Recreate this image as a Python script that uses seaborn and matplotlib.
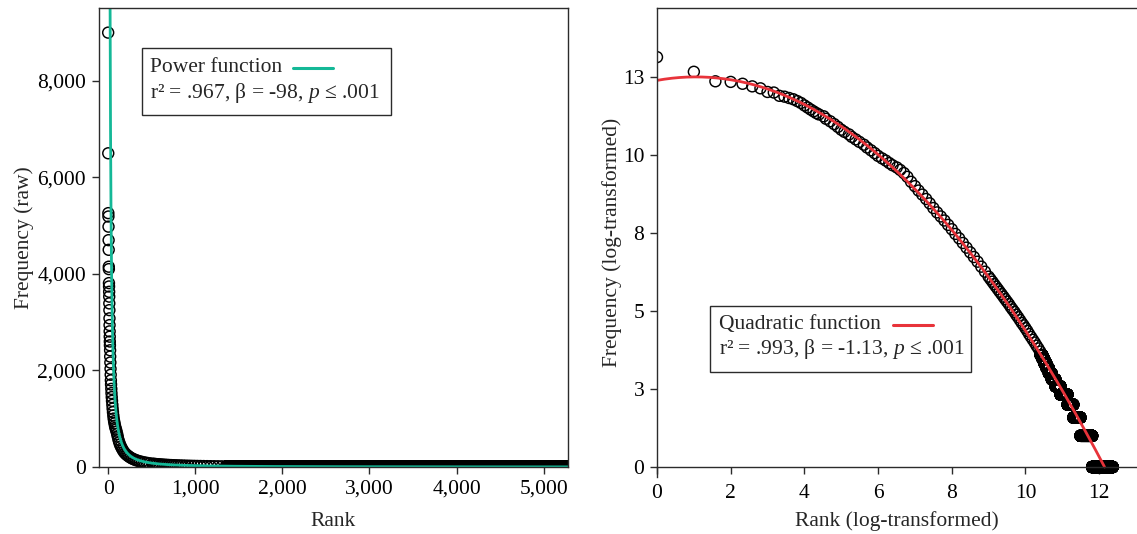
import numpy as np
import pandas as pd
import seaborn as sns
import matplotlib
matplotlib.use("Agg")
import matplotlib.pyplot as plt
from matplotlib.patches import Rectangle
from matplotlib.lines import Line2D
from matplotlib.ticker import StrMethodFormatter


# ---------------------------------------------------------------------------
# Data
# ---------------------------------------------------------------------------

# head of the rank list, one raw frequency per rank (ranks 1-20)
head_freq = [9000, 6500, 5260, 5190, 4980, 4700, 4500, 4150, 4100, 3810,
             3740, 3630, 3530, 3390, 3250, 3080, 2940, 2810, 2700, 2600]

# middle of the list, read along the band of the log-log panel (log2 units)
mid_log_rank = [
    4.4, 4.5, 4.6, 4.7, 4.8, 4.9, 5.0, 5.1, 5.2, 5.3,
    5.4, 5.5, 5.6, 5.7, 5.8, 5.9, 6.0, 6.1, 6.2, 6.3,
    6.4, 6.5, 6.6, 6.7, 6.8, 6.9, 7.0, 7.1, 7.2, 7.3,
    7.4, 7.5, 7.6, 7.7, 7.8, 7.9, 8.0, 8.1, 8.2, 8.3,
    8.4, 8.5, 8.6, 8.7, 8.8, 8.9, 9.0, 9.05, 9.1, 9.15,
    9.2, 9.25, 9.3, 9.35, 9.4, 9.45, 9.5, 9.55, 9.6, 9.65,
    9.7, 9.75, 9.8, 9.85, 9.9, 9.95, 10.0, 10.05, 10.1, 10.15,
    10.2, 10.25, 10.3, 10.35, 10.4]
mid_log_freq = [
    11.30, 11.24, 11.16, 11.08, 10.99, 10.90, 10.81, 10.74, 10.66, 10.58,
    10.50, 10.42, 10.33, 10.24, 10.15, 10.06, 9.97, 9.89, 9.82, 9.74,
    9.67, 9.60, 9.52, 9.42, 9.30, 9.14, 9.00, 8.86, 8.73, 8.59,
    8.45, 8.30, 8.16, 8.03, 7.90, 7.76, 7.62, 7.47, 7.33, 7.18,
    7.03, 6.88, 6.73, 6.58, 6.42, 6.26, 6.10, 6.02, 5.94, 5.86,
    5.78, 5.70, 5.62, 5.54, 5.46, 5.38, 5.30, 5.22, 5.13, 5.05,
    4.97, 4.88, 4.80, 4.71, 4.62, 4.54, 4.45, 4.36, 4.26, 4.17,
    4.08, 3.99, 3.89, 3.80, 3.70]

# long tail: blocks of items sharing one frequency (first / last rank)
tail_freq = [12, 11, 10, 9, 8, 7, 6, 5, 4, 3, 2, 1]
tail_first_rank = [1360, 1410, 1460, 1520, 1590, 1680, 1800, 1980, 2260, 2520, 2880, 3590]
tail_last_rank = [1409, 1459, 1519, 1589, 1679, 1799, 1979, 2259, 2519, 2879, 3589, 5280]

# fitted models drawn in the figure
power_a, power_b = 1.233e6, -1.55          # freq = a * rank ** b
quad_coef = [12.39, 0.213, -0.1015]        # log freq = c0 + c1*x + c2*x**2

raw_xticks = [0, 1000, 2000, 3000, 4000, 5000]
raw_yticks = [0, 2000, 4000, 6000, 8000]
log_xticks = [0, 2, 4, 6, 8, 10, 12]
log_yticks = [0, 2.5, 5, 7.5, 10, 12.5]
log_ytick_labels = ["0", "3", "5", "8", "10", "13"]

left_legend = ["Power function", "r\u00b2 = .967, \u03b2 = -98, $p$ \u2264 .001"]
right_legend = ["Quadratic function", "r\u00b2 = .993, \u03b2 = -1.13, $p$ \u2264 .001"]

TEAL = "#14b897"
RED = "#e8333a"
SPINE = "#2b2b2b"


# ---------------------------------------------------------------------------
# Assemble the rank / frequency table
# ---------------------------------------------------------------------------

head = pd.DataFrame({"rank": np.arange(1, len(head_freq) + 1), "freq": head_freq})
mid = pd.DataFrame({"rank": np.round(2.0 ** np.array(mid_log_rank)),
                    "freq": 2.0 ** np.array(mid_log_freq)})
tail = pd.concat(
    [pd.DataFrame({"rank": np.arange(a, b + 1), "freq": f})
     for f, a, b in zip(tail_freq, tail_first_rank, tail_last_rank)],
    ignore_index=True,
)
df = pd.concat([head, mid, tail], ignore_index=True).astype(float)
df["log_rank"] = np.log2(df["rank"])
df["log_freq"] = np.log2(df["freq"])

rank_grid = np.geomspace(1, df["rank"].max(), 600)
power_fit = pd.DataFrame({"rank": rank_grid, "freq": power_a * rank_grid ** power_b})

# quadratic drawn from x = 0 up to where it reaches zero
x_end = max(np.roots(quad_coef[::-1]).real)
x_grid = np.linspace(0, x_end, 300)
quad_fit = pd.DataFrame({"x": x_grid,
                         "y": quad_coef[0] + quad_coef[1] * x_grid + quad_coef[2] * x_grid ** 2})


# ---------------------------------------------------------------------------
# Figure
# ---------------------------------------------------------------------------

sns.set_theme(style="ticks")
plt.rcParams["font.family"] = ["Liberation Serif", "DejaVu Serif"]
plt.rcParams["mathtext.fontset"] = "custom"
plt.rcParams["mathtext.rm"] = "Liberation Serif"
plt.rcParams["mathtext.it"] = "Liberation Serif:italic"
FS = 15.5

W, H = 1137, 534
fig = plt.figure(figsize=(W / 100, H / 100), dpi=100, facecolor="white")


def px_box(x0, y0, x1, y1):
    """Pixel box (top-left origin) -> figure fraction rect."""
    return [x0 / W, 1 - y1 / H, (x1 - x0) / W, (y1 - y0) / H]


ax1 = fig.add_axes(px_box(98.5, 8, 568, 467))
ax2 = fig.add_axes(px_box(657, 8, 1136, 477))

marker_kw = dict(marker="o", s=62, facecolor="none", edgecolor="black",
                 linewidth=1.05, legend=False)

# left: raw frequencies
sns.scatterplot(data=df, x="rank", y="freq", ax=ax1, **marker_kw)
sns.lineplot(data=power_fit, x="rank", y="freq", ax=ax1, color=TEAL,
             linewidth=2.0, estimator=None, sort=False)
ax1.set_xlim(-110, 5280)
ax1.set_ylim(0, 9510)
ax1.set_xticks(raw_xticks)
ax1.set_yticks(raw_yticks)
ax1.xaxis.set_major_formatter(StrMethodFormatter("{x:,.0f}"))
ax1.yaxis.set_major_formatter(StrMethodFormatter("{x:,.0f}"))
ax1.set_xlabel("Rank", fontsize=FS, labelpad=10)
ax1.set_ylabel("Frequency (raw)", fontsize=FS, labelpad=2)

# right: log-transformed
sns.scatterplot(data=df, x="log_rank", y="log_freq", ax=ax2, **marker_kw)
sns.lineplot(data=quad_fit, x="x", y="y", ax=ax2, color=RED,
             linewidth=2.0, estimator=None, sort=False)
ax2.set_xlim(0, 13)
ax2.set_ylim(-0.32, 14.71)
ax2.set_xticks(log_xticks)
ax2.set_yticks(log_yticks)
ax2.set_yticklabels(log_ytick_labels)
ax2.spines["right"].set_visible(False)
ax2.spines["bottom"].set_position(("data", 0))
ax2.set_xlabel("Rank (log-transformed)", fontsize=FS, labelpad=6)
ax2.set_ylabel("Frequency (log-transformed)", fontsize=FS, labelpad=1)

for ax in (ax1, ax2):
    for sp in ax.spines.values():
        sp.set_color(SPINE)
        sp.set_linewidth(1.0)
    ax.tick_params(direction="out", length=5, width=1.0, color=SPINE,
                   labelsize=FS, labelcolor="black", pad=4)
    ax.grid(False)
ax2.tick_params(axis="x", pad=7)

# legend boxes
for (x0, y0, x1, y1), (tx, ty1, ty2), (lx0, lx1, ly), lines, col in [
    ((141.5, 48, 391, 115), (150, 68, 93), (293, 333, 68), left_legend, TEAL),
    ((710, 306, 971, 372), (719, 325, 349), (893, 933, 325), right_legend, RED),
]:
    fig.add_artist(Rectangle((x0 / W, 1 - y1 / H), (x1 - x0) / W, (y1 - y0) / H,
                             transform=fig.transFigure, facecolor="white",
                             edgecolor=SPINE, linewidth=1.0, zorder=5))
    fig.text(tx / W, 1 - ty1 / H, lines[0], fontsize=FS, va="center", ha="left", zorder=6)
    fig.text(tx / W, 1 - ty2 / H, lines[1], fontsize=FS, va="center", ha="left", zorder=6)
    fig.add_artist(Line2D([lx0 / W, lx1 / W], [1 - ly / H, 1 - ly / H],
                          transform=fig.transFigure, color=col, linewidth=2.2, zorder=6))

fig.savefig("out.png", dpi=100, facecolor="white")
